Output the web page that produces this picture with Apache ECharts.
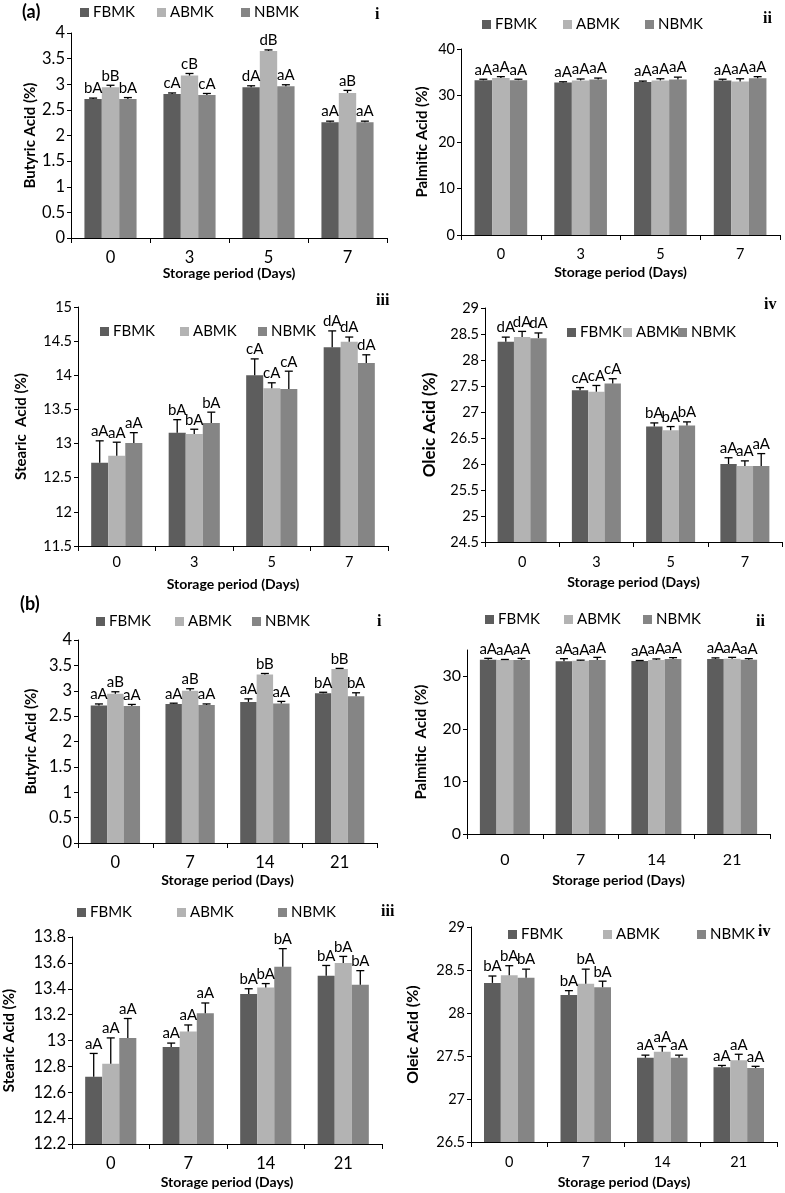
<!DOCTYPE html>
<html>
<head>
<meta charset="utf-8">
<script src="https://cdn.jsdelivr.net/npm/echarts@6/dist/echarts.min.js"></script>
<style>
html,body{margin:0;padding:0;background:#fff;}
#chart{width:785px;height:1193px;}
</style>
</head>
<body>
<div id="chart"></div>
<script>
// ---------- DATA ----------
const seriesNames = ['FBMK', 'ABMK', 'NBMK'];
const seriesColors = ['#5d5d5d', '#b3b3b3', '#858585'];
const daysA = ['0', '3', '5', '7'];
const daysB = ['0', '7', '14', '21'];

// (a) i Butyric
const aButyricVals = [[2.71, 2.81, 2.94, 2.26], [2.94, 3.17, 3.65, 2.83], [2.71, 2.79, 2.96, 2.26]];
const aButyricErrs = [[0.02, 0.02, 0.03, 0.02], [0.04, 0.04, 0.02, 0.05], [0.03, 0.03, 0.03, 0.02]];
const aButyricSig  = [['bA', 'cA', 'dA', 'aA'], ['bB', 'cB', 'dB', 'aB'], ['bA', 'cA', 'aA', 'aA']];
// (a) ii Palmitic
const aPalmiticVals = [[33.3, 32.8, 32.9, 33.2], [33.75, 33.25, 33.25, 33.0], [33.3, 33.45, 33.45, 33.7]];
const aPalmiticErrs = [[0.2, 0.15, 0.2, 0.3], [0.3, 0.3, 0.35, 0.6], [0.2, 0.3, 0.5, 0.35]];
const aPalmiticSig  = [['aA', 'aA', 'aA', 'aA'], ['aA', 'aA', 'aA', 'aA'], ['aA', 'aA', 'aA', 'aA']];
// (a) iii Stearic
const aStearicVals = [[12.72, 13.16, 14.0, 14.41], [12.82, 13.14, 13.81, 14.49], [13.01, 13.3, 13.8, 14.18]];
const aStearicErrs = [[0.32, 0.19, 0.24, 0.24], [0.2, 0.07, 0.08, 0.07], [0.15, 0.16, 0.26, 0.12]];
const aStearicSig  = [['aA', 'bA', 'cA', 'dA'], ['aA', 'bA', 'cA', 'dA'], ['aA', 'bA', 'cA', 'dA']];
// (a) iv Oleic
const aOleicVals = [[28.35, 27.42, 26.72, 26.0], [28.44, 27.39, 26.65, 25.96], [28.42, 27.55, 26.74, 25.96]];
const aOleicErrs = [[0.09, 0.05, 0.07, 0.12], [0.11, 0.12, 0.07, 0.1], [0.1, 0.09, 0.07, 0.24]];
const aOleicSig  = [['dA', 'cA', 'bA', 'aA'], ['dA', 'cA', 'bA', 'aA'], ['dA', 'cA', 'bA', 'aA']];
// (b) i Butyric
const bButyricVals = [[2.71, 2.74, 2.78, 2.95], [2.94, 3.0, 3.32, 3.43], [2.7, 2.72, 2.75, 2.89]];
const bButyricErrs = [[0.03, 0.015, 0.06, 0.02], [0.04, 0.04, 0.02, 0.01], [0.03, 0.02, 0.04, 0.07]];
const bButyricSig  = [['aA', 'aA', 'aA', 'bA'], ['aB', 'aB', 'bB', 'bB'], ['aA', 'aA', 'aA', 'bA']];
// (b) ii Palmitic
const bPalmiticVals = [[33.16, 32.85, 32.9, 33.3], [33.1, 32.97, 33.1, 33.35], [33.1, 33.1, 33.3, 33.16]];
const bPalmiticErrs = [[0.25, 0.5, 0.1, 0.2], [0.1, 0.1, 0.2, 0.25], [0.3, 0.5, 0.25, 0.2]];
const bPalmiticSig  = [['aA', 'aA', 'aA', 'aA'], ['aA', 'aA', 'aA', 'aA'], ['aA', 'aA', 'aA', 'aA']];
// (b) iii Stearic
const bStearicVals = [[12.72, 12.95, 13.36, 13.5], [12.82, 13.07, 13.41, 13.6], [13.02, 13.21, 13.57, 13.43]];
const bStearicErrs = [[0.18, 0.03, 0.04, 0.08], [0.2, 0.05, 0.03, 0.05], [0.15, 0.08, 0.14, 0.11]];
const bStearicSig  = [['aA', 'aA', 'bA', 'bA'], ['aA', 'aA', 'bA', 'bA'], ['aA', 'aA', 'bA', 'bA']];
// (b) iv Oleic
const bOleicVals = [[28.35, 28.21, 27.48, 27.37], [28.44, 28.34, 27.55, 27.45], [28.41, 28.3, 27.48, 27.36]];
const bOleicErrs = [[0.08, 0.05, 0.03, 0.02], [0.11, 0.17, 0.06, 0.07], [0.1, 0.07, 0.03, 0.02]];
const bOleicSig  = [['bA', 'bA', 'aA', 'aA'], ['bA', 'bA', 'aA', 'aA'], ['bA', 'bA', 'aA', 'aA']];

// ---------- LAYOUT ----------
const W = 785, H = 1193;
const FONT = 'Lato';
const panels = [
  {cats: daysA, vals: aButyricVals, errs: aButyricErrs, sig: aButyricSig, yName: 'Butyric Acid (%)',
   min: 0, max: 4, interval: 0.5, box: [71, 33, 387, 238], yGap: 32, xGap: 27, xMargin: 11, tickFont: 16.5, nameFont: 15,
   legend: [[80, 13], [157, 13], [241, 13]], roman: ['i', 375, 16]},
  {cats: daysA, vals: aPalmiticVals, errs: aPalmiticErrs, sig: aPalmiticSig, yName: 'Palmitic Acid (%)',
   min: 0, max: 40, interval: 10, box: [461, 49, 780, 235], yGap: 31, xGap: 30, xMargin: 12, tickFont: 14.5, nameFont: 15,
   legend: [[482, 25], [563, 25], [645, 25]], roman: ['ii', 763, 20]},
  {cats: daysA, vals: aStearicVals, errs: aStearicErrs, sig: aStearicSig, yName: 'Stearic  Acid (%)',
   min: 11.5, max: 15, interval: 0.5, box: [78, 307, 388, 546], yGap: 49, xGap: 31, xMargin: 9, tickFont: 14.5, nameFont: 15,
   legend: [[100, 332], [180, 332], [258, 332]], roman: ['iii', 376, 302]},
  {cats: daysA, vals: aOleicVals, errs: aOleicErrs, sig: aOleicSig, yName: 'Oleic Acid (%)',
   min: 24.5, max: 29, interval: 0.5, box: [485, 308, 782, 542], yGap: 47, xGap: 33, xMargin: 13, tickFont: 14.5, nameFont: 17,
   legend: [[567, 333], [623, 333], [678, 333]], roman: ['iv', 764, 306]},
  {cats: daysB, vals: bButyricVals, errs: bButyricErrs, sig: bButyricSig, yName: 'Butyric Acid (%)',
   min: 0, max: 4, interval: 0.5, box: [78, 640, 377, 843], yGap: 39, xGap: 30, xMargin: 11, tickFont: 16.5, nameFont: 15,
   legend: [[96, 622], [175, 622], [252, 622]], roman: ['i', 377, 623]},
  {cats: daysB, vals: bPalmiticVals, errs: bPalmiticErrs, sig: bPalmiticSig, yName: 'Palmitic  Acid (%)',
   min: 0, max: 35, interval: 10, box: [467, 650, 770, 834], yGap: 38, xGap: 39, xMargin: 18, tickFont: 16, nameFont: 15,
   legend: [[485, 620], [564, 620], [643, 620]], roman: ['ii', 756, 623], ticks: [0, 10, 20, 30]},
  {cats: daysB, vals: bStearicVals, errs: bStearicErrs, sig: bStearicSig, yName: 'Stearic Acid (%)',
   min: 12.2, max: 13.8, interval: 0.2, box: [72, 937, 382, 1144], yGap: 55, xGap: 31, xMargin: 11, tickFont: 16.5, nameFont: 15,
   legend: [[77, 913], [177, 913], [278, 913]], roman: ['iii', 381, 913]},
  {cats: daysB, vals: bOleicVals, errs: bOleicErrs, sig: bOleicSig, yName: 'Oleic Acid (%)',
   min: 26.5, max: 29, interval: 0.5, box: [471, 927, 777, 1142], yGap: 50, xGap: 33, xMargin: 13, tickFont: 14.5, nameFont: 16,
   legend: [[508, 935], [603, 935], [697, 935]], roman: ['iv', 758, 933]}
];

const CAT_GAP = 0.34;
const grids = [], xAxes = [], yAxes = [], series = [], legends = [], graphics = [];

panels.forEach((p, g) => {
  const [l, t, r, b] = p.box;
  grids.push({left: l, top: t, width: r - l, height: b - t, containLabel: false});
  xAxes.push({
    type: 'category', gridIndex: g, data: p.cats, boundaryGap: true,
    axisLine: {show: true, lineStyle: {color: '#000', width: 1}},
    axisTick: {show: true, alignWithLabel: false, length: 5, lineStyle: {color: '#000'}},
    axisLabel: {color: '#000', fontSize: p.tickFont, fontFamily: FONT, margin: p.xMargin},
    splitLine: {show: false},
    name: 'Storage period (Days)', nameLocation: 'middle', nameGap: p.xGap,
    nameTextStyle: {color: '#000', fontSize: 14, fontWeight: 'bold', fontFamily: FONT}
  });
  const yAx = {
    type: 'value', gridIndex: g, min: p.min, max: p.max, interval: p.interval,
    axisLine: {show: true, lineStyle: {color: '#000', width: 1}},
    axisTick: {show: true, length: 4, lineStyle: {color: '#000'}},
    axisLabel: {color: '#000', fontSize: p.tickFont, fontFamily: FONT, margin: 6},
    splitLine: {show: false},
    name: p.yName, nameLocation: 'middle', nameGap: p.yGap,
    nameTextStyle: {color: '#000', fontSize: p.nameFont, fontWeight: 'bold', fontFamily: FONT}
  };
  if (p.ticks) {
    yAx.axisTick.customValues = p.ticks;
    yAx.axisLabel.customValues = p.ticks;
  }
  yAxes.push(yAx);

  seriesNames.forEach((name, s) => {
    series.push({
      type: 'bar', name: name, xAxisIndex: g, yAxisIndex: g,
      data: p.vals[s], barGap: '0%', barCategoryGap: (CAT_GAP * 100) + '%',
      itemStyle: {color: seriesColors[s]}, silent: true, animation: false
    });
  });
  seriesNames.forEach((name, s) => {
    const sigArr = p.sig[s];
    series.push({
      type: 'custom', xAxisIndex: g, yAxisIndex: g, z: 5, animation: false, silent: true,
      data: p.cats.map((c, i) => [i, p.vals[s][i], p.errs[s][i]]),
      encode: {x: 0, y: 1},
      renderItem: function (params, api) {
        const idx = api.value(0), v = api.value(1), e = api.value(2);
        const pt = api.coord([idx, v]);
        const pc = api.coord([idx, v + e]);
        const bw = api.size([1, 0])[0] * (1 - CAT_GAP) / 3;
        const x = pt[0] + (s - 1) * bw;
        return {
          type: 'group',
          children: [
            {type: 'line', shape: {x1: x, y1: pt[1], x2: x, y2: pc[1]}, style: {stroke: '#000', lineWidth: 1.3}},
            {type: 'line', shape: {x1: x - 4, y1: pc[1], x2: x + 4, y2: pc[1]}, style: {stroke: '#000', lineWidth: 1.3}},
            {type: 'text', x: x, y: pc[1] - 2,
             style: {text: sigArr[params.dataIndex], fill: '#000', fontSize: 15, fontFamily: FONT,
                     align: 'center', verticalAlign: 'bottom'}}
          ]
        };
      }
    });
  });

  p.legend.forEach((pos, s) => {
    legends.push({
      data: [seriesNames[s]], left: pos[0], top: pos[1] - 8, padding: 0, itemGap: 0,
      icon: 'rect', itemWidth: 9, itemHeight: 9, selectedMode: false,
      textStyle: {color: '#000', fontSize: 15, fontFamily: FONT, padding: [0, 0, 0, -1]}
    });
  });

  graphics.push({
    type: 'text', left: p.roman[1], top: p.roman[2] - 9,
    style: {text: p.roman[0], fill: '#000', fontSize: 16, fontWeight: 'bold', fontFamily: 'Liberation Serif'}
  });
});

graphics.push({type: 'text', left: 22, top: 3, style: {text: '(a)', fill: '#000', fontSize: 18, fontWeight: 'bold', fontFamily: FONT}});
graphics.push({type: 'text', left: 20, top: 595, style: {text: '(b)', fill: '#000', fontSize: 18, fontWeight: 'bold', fontFamily: FONT}});

const chart = echarts.init(document.getElementById('chart'), null, {renderer: 'canvas', width: W, height: H});
chart.setOption({
  backgroundColor: '#fff',
  animation: false,
  grid: grids, xAxis: xAxes, yAxis: yAxes, series: series, legend: legends, graphic: graphics
});
</script>
</body>
</html>
